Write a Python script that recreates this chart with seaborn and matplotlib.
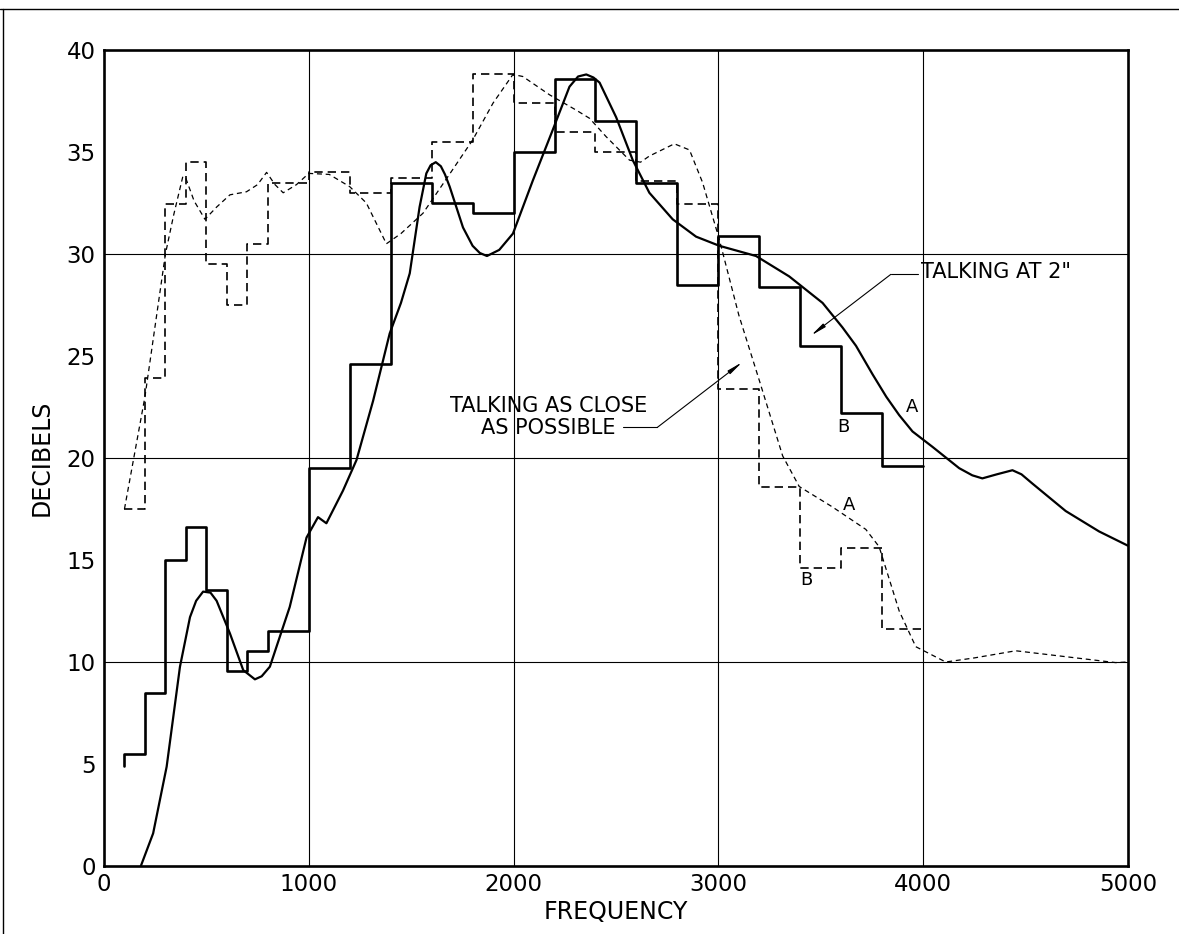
import numpy as np
import pandas as pd
import matplotlib
matplotlib.use("Agg")
import matplotlib.pyplot as plt
from matplotlib.lines import Line2D
import seaborn as sns

# ---------------- data ----------------
step_freq = [100, 100, 200, 300, 400, 500, 600, 700, 800, 1000, 1200, 1400, 1600,
             1800, 2000, 2200, 2400, 2600, 2800, 3000, 3200, 3400, 3600, 3800, 4000]
# B curve, talking at 2" (solid steps); first value is the small start tick
step_2in = [4.9, 5.5, 8.5, 15.0, 16.6, 13.55, 9.55, 10.55, 11.5, 19.5, 24.6, 33.5, 32.5,
            32.0, 35.0, 38.6, 36.5, 33.5, 28.5, 30.9, 28.4, 25.5, 22.2, 19.6, 19.6]
# B curve, talking as close as possible (dashed steps)
step_close = [17.5, 17.5, 23.9, 32.45, 34.5, 29.5, 27.5, 30.5, 33.5, 34.0, 33.0, 33.7, 35.5,
              38.8, 37.4, 36.0, 35.0, 33.6, 32.45, 23.4, 18.6, 14.6, 15.6, 11.6, 11.6]

# A curve, talking at 2" (solid smooth)
a2_freq = [180, 240, 306, 371, 420, 450, 484, 520, 550, 615, 680, 737, 770, 810, 907, 989,
           1045, 1086, 1167, 1233, 1314, 1395, 1450, 1493, 1541, 1574, 1595, 1620, 1645,
           1665, 1688, 1753, 1800, 1835, 1870, 1930, 1997, 2094, 2192, 2273, 2315, 2355,
           2390, 2420, 2501, 2582, 2663, 2777, 2891, 3005, 3184, 3346, 3509, 3606, 3672,
           3753, 3820, 3883, 3948, 4045, 4176, 4240, 4289, 4360, 4436, 4480, 4533, 4696,
           4859, 5000]
a2_db = [0.0, 1.6, 4.87, 9.77, 12.2, 13.0, 13.45, 13.4, 13.0, 11.4, 9.6, 9.15, 9.3, 9.77,
         12.7, 16.1, 17.1, 16.8, 18.4, 19.9, 22.8, 26.1, 27.6, 29.05, 32.3, 33.95, 34.35,
         34.5, 34.3, 33.9, 33.3, 31.3, 30.4, 30.05, 29.9, 30.2, 31.0, 33.6, 36.1, 38.2,
         38.7, 38.8, 38.65, 38.4, 36.7, 34.6, 33.0, 31.7, 30.85, 30.4, 29.9, 28.9, 27.6,
         26.4, 25.5, 24.1, 23.0, 22.1, 21.3, 20.55, 19.5, 19.15, 19.0, 19.2, 19.4, 19.2,
         18.75, 17.4, 16.4, 15.7]

# A curve, talking as close as possible (dashed smooth)
ac_freq = [100, 200, 300, 340, 385, 400, 440, 493, 550, 615, 696, 750, 794, 835, 875, 940,
           1000, 1100, 1200, 1281, 1330, 1379, 1450, 1558, 1680, 1801, 1900, 1997, 2045,
           2176, 2306, 2371, 2452, 2566, 2620, 2663, 2785, 2859, 2923, 3005, 3100, 3200,
           3314, 3395, 3557, 3720, 3785, 3883, 3964, 4110, 4250, 4452, 4696, 4940, 5000]
ac_db = [17.5, 23.0, 30.0, 31.9, 33.8, 33.7, 32.6, 31.7, 32.3, 32.9, 33.05, 33.4, 34.0, 33.4,
         33.0, 33.4, 33.95, 33.9, 33.3, 32.5, 31.5, 30.5, 31.0, 32.0, 33.8, 35.6, 37.4, 38.8,
         38.7, 37.8, 37.05, 36.65, 35.75, 34.6, 34.5, 34.8, 35.4, 35.1, 33.5, 30.7, 27.0,
         23.8, 20.1, 18.6, 17.6, 16.5, 15.65, 12.5, 10.75, 10.0, 10.2, 10.55, 10.26, 9.97, 10.0]

x_ticks = [0, 1000, 2000, 3000, 4000, 5000]
y_ticks = [0, 5, 10, 15, 20, 25, 30, 35, 40]

# ---------------- style ----------------
sns.set_style("white")
plt.rcParams["font.family"] = ["DejaVu Sans"]
plt.rcParams["text.color"] = "black"
plt.rcParams["axes.labelcolor"] = "black"
plt.rcParams["xtick.color"] = "black"
plt.rcParams["ytick.color"] = "black"

fig = plt.figure(figsize=(11.79, 9.34), dpi=100)
ax = fig.add_axes([0.0882, 0.0728, 0.8685, 0.8737])

df_s2 = pd.DataFrame({"f": step_freq, "db": step_2in})
df_sc = pd.DataFrame({"f": step_freq, "db": step_close})
df_a2 = pd.DataFrame({"f": a2_freq, "db": a2_db})
df_ac = pd.DataFrame({"f": ac_freq, "db": ac_db})

sns.lineplot(data=df_s2, x="f", y="db", ax=ax, estimator=None, sort=False,
             drawstyle="steps-post", color="black", linewidth=1.9)
sns.lineplot(data=df_sc, x="f", y="db", ax=ax, estimator=None, sort=False,
             drawstyle="steps-post", color="black", linewidth=1.2,
             linestyle=(0, (5, 3)))
sns.lineplot(data=df_a2, x="f", y="db", ax=ax, estimator=None, sort=False,
             color="black", linewidth=1.6)
sns.lineplot(data=df_ac, x="f", y="db", ax=ax, estimator=None, sort=False,
             color="black", linewidth=0.9, linestyle=(0, (4, 3)))

ax.set_xlim(0, 5000)
ax.set_ylim(0, 40)
ax.set_xticks(x_ticks)
ax.set_yticks(y_ticks)
ax.set_xticklabels([str(v) for v in x_ticks], fontsize=16.5, color="black")
ax.set_yticklabels([str(v) for v in y_ticks], fontsize=16.5, color="black")
ax.tick_params(axis="x", length=0, pad=5)
ax.tick_params(axis="y", direction="in", length=7, width=1.2, color="black", pad=6)

for v in [1000, 2000, 3000, 4000]:
    ax.axvline(v, color="black", linewidth=0.8, zorder=0.5)
for v in [10, 20, 30]:
    ax.axhline(v, color="black", linewidth=0.8, zorder=0.5)

for sp in ax.spines.values():
    sp.set_visible(True)
    sp.set_color("black")
    sp.set_linewidth(1.9)

ax.set_xlabel("FREQUENCY", fontsize=17, labelpad=3, color="black")
ax.set_ylabel("DECIBELS", fontsize=17, labelpad=9, color="black")

# annotations
ax.text(3990, 29.1, 'TALKING AT 2"', fontsize=15, ha="left", va="center")
ax.plot([3842, 3975], [29.0, 29.0], color="black", linewidth=0.8)
ax.annotate("", xy=(3452, 26.0), xytext=(3842, 29.0),
            arrowprops=dict(arrowstyle="-|>,head_length=0.9,head_width=0.12",
                            color="black", lw=0.8, shrinkA=0, shrinkB=0))

ax.text(2171, 22.0, "TALKING AS CLOSE\nAS POSSIBLE", fontsize=15, ha="center",
        va="center", multialignment="center", linespacing=1.1)
ax.plot([2532, 2702], [21.5, 21.5], color="black", linewidth=0.8)
ax.annotate("", xy=(3117, 24.7), xytext=(2702, 21.5),
            arrowprops=dict(arrowstyle="-|>,head_length=0.9,head_width=0.12",
                            color="black", lw=0.8, shrinkA=0, shrinkB=0))

ax.text(3948, 22.5, "A", fontsize=13, ha="center", va="center")
ax.text(3611, 21.5, "B", fontsize=13, ha="center", va="center")
ax.text(3636, 17.7, "A", fontsize=13, ha="center", va="center")
ax.text(3428, 14.0, "B", fontsize=13, ha="center", va="center")

# outer frame lines of the scanned sheet
fig.add_artist(Line2D([0.0, 1.0], [0.9905, 0.9905], transform=fig.transFigure,
                      color="black", linewidth=1.0))
fig.add_artist(Line2D([0.0027, 0.0027], [0.0, 0.9905], transform=fig.transFigure,
                      color="black", linewidth=1.0))

fig.savefig("out.png", dpi=100)
